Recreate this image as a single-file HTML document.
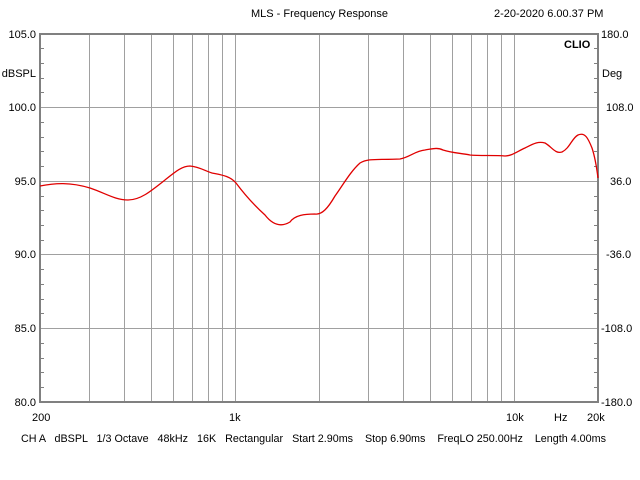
<!DOCTYPE html>
<html><head><style>
body{margin:0;background:#fff;}
svg{display:block;font-family:"Liberation Sans",sans-serif;font-size:11px;}
</style></head><body>
<svg width="640" height="480" xmlns="http://www.w3.org/2000/svg">
<rect width="640" height="480" fill="#fff"/>
<g stroke="#a0a0a0" stroke-width="1">
<line x1="40" y1="107.5" x2="598" y2="107.5"/>
<line x1="40" y1="181.5" x2="598" y2="181.5"/>
<line x1="40" y1="254.5" x2="598" y2="254.5"/>
<line x1="40" y1="328.5" x2="598" y2="328.5"/>
<line x1="89.5" y1="34" x2="89.5" y2="402"/>
<line x1="124.5" y1="34" x2="124.5" y2="402"/>
<line x1="151.5" y1="34" x2="151.5" y2="402"/>
<line x1="173.5" y1="34" x2="173.5" y2="402"/>
<line x1="192.5" y1="34" x2="192.5" y2="402"/>
<line x1="208.5" y1="34" x2="208.5" y2="402"/>
<line x1="222.5" y1="34" x2="222.5" y2="402"/>
<line x1="235.5" y1="34" x2="235.5" y2="402"/>
<line x1="319.5" y1="34" x2="319.5" y2="402"/>
<line x1="368.5" y1="34" x2="368.5" y2="402"/>
<line x1="403.5" y1="34" x2="403.5" y2="402"/>
<line x1="430.5" y1="34" x2="430.5" y2="402"/>
<line x1="452.5" y1="34" x2="452.5" y2="402"/>
<line x1="471.5" y1="34" x2="471.5" y2="402"/>
<line x1="487.5" y1="34" x2="487.5" y2="402"/>
<line x1="501.5" y1="34" x2="501.5" y2="402"/>
<line x1="514.5" y1="34" x2="514.5" y2="402"/>
</g>
<g stroke="#808080" stroke-width="1">
<path d="M40,48.5h4M40,63.5h4M40,78.5h4M40,92.5h4M40,122.5h4M40,137.5h4M40,151.5h4M40,166.5h4M40,196.5h4M40,210.5h4M40,225.5h4M40,240.5h4M40,269.5h4M40,284.5h4M40,299.5h4M40,313.5h4M40,343.5h4M40,358.5h4M40,372.5h4M40,387.5h4"/>
<path d="M598,48.5h-4M598,63.5h-4M598,78.5h-4M598,92.5h-4M598,122.5h-4M598,137.5h-4M598,151.5h-4M598,166.5h-4M598,196.5h-4M598,210.5h-4M598,225.5h-4M598,240.5h-4M598,269.5h-4M598,284.5h-4M598,299.5h-4M598,313.5h-4M598,343.5h-4M598,358.5h-4M598,372.5h-4M598,387.5h-4"/>
</g>
<rect x="40" y="34" width="558" height="368" fill="none" stroke="#808080" stroke-width="2"/>
<path fill="none" stroke="#e00000" stroke-width="1.3" d="M40,186 C55,183 70,182 90,188 C105,193 115,200 128,200 C140,200 150,192 165,180 C175,172 182,166 190,166 C200,167 205,171 212,173 C222,175 230,176 236,183 C245,195 255,206 265,215 C272,224 280,228 290,222 C295,215 305,214 315,214 C322,215 328,208 335,196 C343,185 350,172 360,163 C368,158 378,160 400,159 C410,157 415,151 425,150 C432,149 437,147 443,150 C452,153 460,153 470,155 C480,156 495,155 505,156 C512,156 518,151 525,148 C533,144 538,141 545,143 C552,147 555,154 562,152 C570,148 572,138 578,135 C585,132 588,138 592,148 C595,157 597,170 598,178"/>
<g fill="#000" text-anchor="end">
<text x="36" y="38">105.0</text>
<text x="36" y="111">100.0</text>
<text x="36" y="185">95.0</text>
<text x="36" y="258">90.0</text>
<text x="36" y="332">85.0</text>
<text x="36" y="406">80.0</text>
<text x="36" y="77">dBSPL</text>
</g>
<g fill="#000">
<text x="601" y="38">180.0</text>
<text x="606" y="111">108.0</text>
<text x="610" y="185">36.0</text>
<text x="606" y="258">-36.0</text>
<text x="601" y="332">-108.0</text>
<text x="601" y="406">-180.0</text>
<text x="602" y="77">Deg</text>
<text x="32" y="421">200</text>
<text x="229" y="421">1k</text>
<text x="506" y="421">10k</text>
<text x="554" y="421">Hz</text>
<text x="587" y="421">20k</text>
<text x="251" y="17">MLS - Frequency Response</text>
<text x="494" y="17">2-20-2020 6.00.37 PM</text>
<text x="564" y="48" font-weight="bold">CLIO</text>
<text x="21" y="442" xml:space="preserve" textLength="585" lengthAdjust="spacingAndGlyphs">CH A   dBSPL   1/3 Octave   48kHz   16K   Rectangular   Start 2.90ms    Stop 6.90ms    FreqLO 250.00Hz    Length 4.00ms</text>
</g>
</svg>
</body></html>
